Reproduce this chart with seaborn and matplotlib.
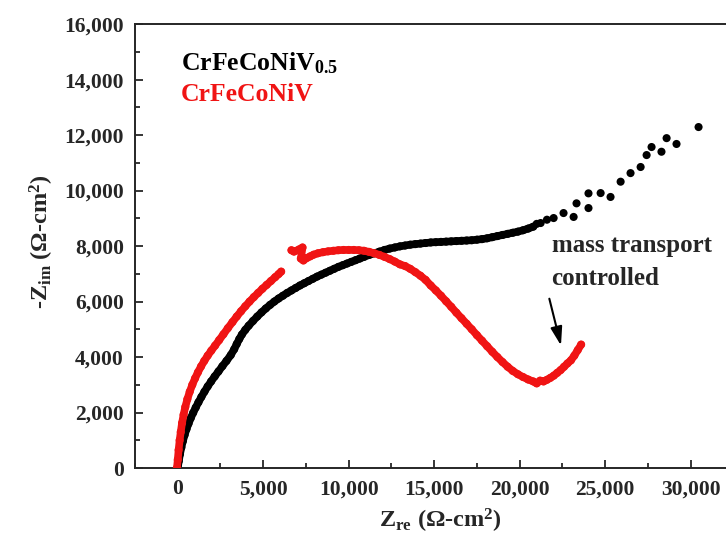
import numpy as np
import pandas as pd
import seaborn as sns
import matplotlib.pyplot as plt

# CrFeCoNiV0.5 (black) - Zre, -Zim in ohm-cm2
v05_zre = [0, 60, 130, 210, 300, 400, 510, 630, 760, 900, 1050, 1210, 1380, 1560,
           1750, 1950, 2160, 2380, 2610, 2850, 3100, 3300, 3450, 3600, 3750,
           3950, 4150, 4400, 4650, 4900, 5150, 5400, 5650, 5900, 6150, 6400, 6650,
           6900, 7150, 7400, 7650, 7900, 8150, 8400, 8650, 8900, 9150, 9400, 9650,
           9900, 10150, 10400, 10650, 10900, 11200, 11500, 11800, 12100, 12400,
           12700, 13000, 13300, 13600, 13900, 14200, 14500, 14800, 15100, 15400,
           15700, 16000, 16300, 16600, 16900, 17200, 17500, 17800, 18100, 18400,
           18700, 19000, 19300, 19600, 19900, 20200, 20500, 20800,
           21000, 21230, 21600, 21990, 22570, 23160, 23330, 24030, 24030, 24740,
           25320, 25910, 26490, 27080, 27430, 27720, 28300, 28600, 29180, 30470]
v05_zim = [0, 250, 500, 740, 970, 1190, 1400, 1600, 1800, 1990, 2180, 2370, 2560, 2750,
           2940, 3120, 3300, 3480, 3670, 3860, 4070, 4280, 4470, 4650, 4810,
           4980, 5130, 5300, 5460, 5610, 5750, 5880, 6000, 6110, 6210, 6310, 6400,
           6490, 6580, 6660, 6740, 6820, 6900, 6970, 7040, 7110, 7180, 7250, 7310,
           7370, 7430, 7490, 7550, 7610, 7680, 7740, 7800, 7860, 7910,
           7950, 7990, 8020, 8050, 8070, 8090, 8110, 8130, 8140, 8150,
           8160, 8170, 8180, 8190, 8200, 8210, 8230, 8250, 8280, 8320,
           8360, 8400, 8440, 8480, 8520, 8570, 8630, 8700,
           8800, 8830, 8950, 9010, 9190, 9050, 9540, 9900, 9370, 9910,
           9770, 10320, 10630, 10850, 11280, 11570, 11400, 11890, 11680, 12290]
v05_dense = 87  # points that form the continuous trace

# CrFeCoNiV (red)
v10_zre = [-50, 0, 50, 110, 175, 250, 340, 440, 560, 700, 850, 1010, 1180, 1360,
           1550, 1750, 1960, 2180, 2420, 2670, 2930, 3200, 3450, 3700, 3950, 4200,
           4450, 4700, 4950, 5200, 5450, 5700, 5900, 6050,
           6650, 6800, 7100, 7300, 7200, 7350,
           7550, 7750, 7950, 8200, 8500, 8800, 9100, 9400, 9700, 10000, 10300,
           10600, 10900, 11200, 11500, 11800, 12100, 12400, 12700, 13000, 13300,
           13600, 13900, 14200, 14500, 14800, 15100, 15400, 15700, 16000, 16300,
           16600, 16900, 17200, 17500, 17800, 18100, 18400, 18700, 19000, 19300,
           19600, 19900, 20200, 20500, 20800, 21000, 21200, 21400, 21600, 21800,
           22000, 22200, 22400, 22600, 22800, 23000, 23200, 23400, 23600]
v10_zim = [0, 300, 650, 1000, 1300, 1620, 1920, 2200, 2480, 2750, 3000, 3230, 3450, 3660,
           3860, 4050, 4230, 4410, 4610, 4820, 5040, 5260, 5460, 5650, 5830, 6000,
           6160, 6310, 6460, 6600, 6740, 6880, 6990, 7080,
           7850, 7800, 7880, 7950, 7550, 7480,
           7570, 7630, 7690, 7740, 7780, 7810, 7830, 7850, 7860, 7860, 7860,
           7850, 7830, 7790, 7740, 7680, 7610, 7530, 7440, 7340, 7280,
           7180, 7060, 6930, 6780, 6580, 6400, 6210, 6010, 5810, 5600,
           5400, 5200, 5000, 4790, 4590, 4390, 4190, 4000, 3820, 3650,
           3500, 3380, 3280, 3190, 3120, 3050, 3150, 3120, 3180, 3250,
           3330, 3430, 3530, 3650, 3770, 3880, 4050, 4250, 4450]
v10_gap = 34  # first point after the jump near 6,500

x_ticks = [0, 5000, 10000, 15000, 20000, 25000, 30000]
y_ticks = [0, 2000, 4000, 6000, 8000, 10000, 12000, 14000, 16000]

red = "#f01414"

sns.set_style("ticks")
plt.rcParams["font.family"] = ["Liberation Serif", "DejaVu Serif"]
plt.rcParams["font.weight"] = "bold"
plt.rcParams["mathtext.fontset"] = "custom"
plt.rcParams["mathtext.rm"] = "Liberation Serif:bold"
plt.rcParams["mathtext.it"] = "Liberation Serif:bold"
plt.rcParams["mathtext.bf"] = "Liberation Serif:bold"

df_a = pd.DataFrame({"zre": v05_zre, "zim": v05_zim})
df_b = pd.DataFrame({"zre": v10_zre, "zim": v10_zim})

fig = plt.figure(figsize=(7.26, 5.42), dpi=100)
ax = fig.add_axes([0.186, 0.1365, 0.824, 0.819])

# thick trace under the dense parts, then the points themselves
line_kw = dict(ax=ax, x="zre", y="zim", sort=False, estimator=None, lw=5.5, legend=False)
sns.lineplot(data=df_a.iloc[:v05_dense], color="black", zorder=2, **line_kw)
sns.lineplot(data=df_b.iloc[:v10_gap], color=red, zorder=3, **line_kw)
sns.lineplot(data=df_b.iloc[v10_gap:], color=red, zorder=3, **line_kw)

sns.scatterplot(data=df_a, x="zre", y="zim", ax=ax, color="black", s=34,
                edgecolor="none", legend=False, zorder=2)
sns.scatterplot(data=df_b, x="zre", y="zim", ax=ax, color=red, s=34,
                edgecolor="none", legend=False, zorder=3)

ax.set_xlim(-2500, 32500)
ax.set_ylim(0, 16000)
ax.set_xticks(x_ticks)
ax.set_yticks(y_ticks)
ax.set_xticks(np.arange(-2500, 32501, 2500), minor=True)
ax.set_yticks(np.arange(0, 16001, 1000), minor=True)
ax.xaxis.set_major_formatter(plt.FuncFormatter(lambda v, p: f"{int(v):,}"))
ax.yaxis.set_major_formatter(plt.FuncFormatter(lambda v, p: f"{int(v):,}"))
ax.tick_params(which="both", direction="in", width=1.3, labelsize=15.5, pad=8)
ax.tick_params(which="major", length=6)
ax.tick_params(which="minor", length=3.5)
for s in ["left", "bottom", "top"]:
    ax.spines[s].set_linewidth(1.4)
ax.spines["right"].set_visible(False)
ax.set_xlabel("Z$_{re}$ (Ω-cm$^2$)", fontsize=17.5, fontweight="bold")
ax.set_ylabel("-Z$_{im}$ (Ω-cm$^2$)", fontsize=17.5, fontweight="bold")
ax.xaxis.set_label_coords(0.51, -0.088)
ax.yaxis.set_label_coords(-0.132, 0.51)

ax.text(175, 14600, "CrFeCoNiV$_{0.5}$", fontsize=18.5, fontweight="bold",
        color="black", va="center", ha="left")
ax.text(175, 13480, "CrFeCoNiV", fontsize=18.5, fontweight="bold",
        color=red, va="center", ha="left")

ax.annotate("", xy=(22460, 4320), xytext=(21700, 6200),
            arrowprops=dict(arrowstyle="-|>,head_length=0.7,head_width=0.22",
                            color="black", lw=1.5, mutation_scale=16))
ax.text(21870, 7420, "mass transport\ncontrolled", fontsize=18, fontweight="bold",
        ha="left", va="center", linespacing=1.55)

fig.savefig("out.png", dpi=100)
